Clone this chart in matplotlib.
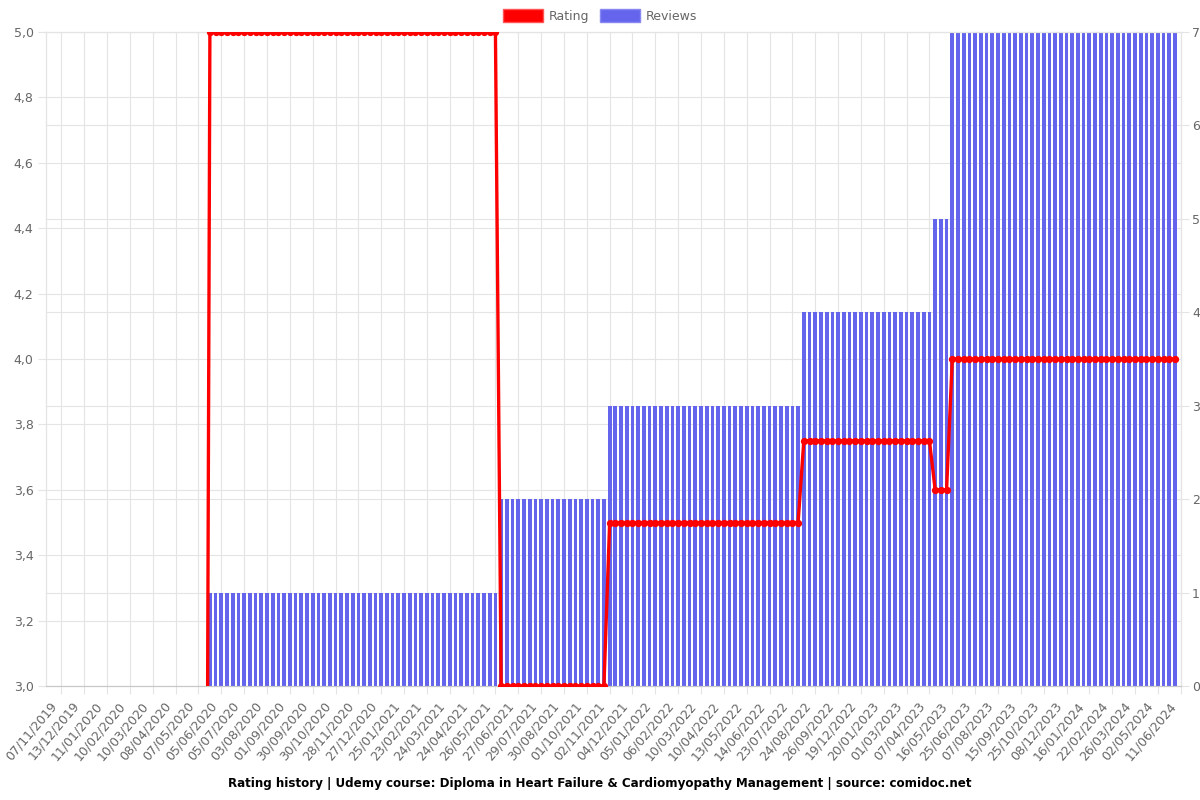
import numpy as np
import matplotlib
matplotlib.use("Agg")
import matplotlib.pyplot as plt
import matplotlib.patches as mpatches
from matplotlib.transforms import ScaledTranslation

# shown date labels (every 4th snapshot)
date_labels = ["07/11/2019", "13/12/2019", "11/01/2020", "10/02/2020", "10/03/2020",
               "08/04/2020", "07/05/2020", "05/06/2020", "05/07/2020", "03/08/2020",
               "01/09/2020", "30/09/2020", "30/10/2020", "28/11/2020", "27/12/2020",
               "25/01/2021", "23/02/2021", "24/03/2021", "24/04/2021", "26/05/2021",
               "27/06/2021", "29/07/2021", "30/08/2021", "01/10/2021", "02/11/2021",
               "04/12/2021", "05/01/2022", "06/02/2022", "10/03/2022", "10/04/2022",
               "13/05/2022", "14/06/2022", "23/07/2022", "24/08/2022", "26/09/2022",
               "19/12/2022", "20/01/2023", "01/03/2023", "07/04/2023", "16/05/2023",
               "25/06/2023", "07/08/2023", "15/09/2023", "25/10/2023", "08/12/2023",
               "16/01/2024", "22/02/2024", "26/03/2024", "02/05/2024", "11/06/2024"]
label_step = 4

# step runs: number of snapshots, reviews and rating in each run
run_length = [26, 51, 19, 34, 23, 3, 40]
run_reviews = [0, 1, 2, 3, 4, 5, 7]
run_rating = [0, 5.0, 3.0, 3.5, 3.75, 3.6, 4.0]

reviews = np.repeat(run_reviews, run_length)
rating = np.repeat(run_rating, run_length)
x = np.arange(len(reviews))

grey = "#666666"
gridc = "#e4e4e4"

fig = plt.figure(figsize=(12, 8), dpi=100)
ax = fig.add_axes([46 / 1200, 1 - 686 / 800, 1135 / 1200, 654 / 800])
ax2 = ax.twinx()
ax.yaxis.tick_right()
ax2.yaxis.tick_left()

ax.bar(x, reviews, width=0.65, color="#6464ec", zorder=2)
ax2.plot(x, rating, color="red", lw=2.4, marker="o", ms=4.2, zorder=3)

ax.set_xlim(-2.7, (len(date_labels) - 1) * label_step + 0.05)
ax.set_ylim(0, 7)
ax2.set_ylim(3, 5)

ax.set_xticks(np.arange(len(date_labels)) * label_step)
ax.set_xticklabels(date_labels, rotation=50, ha="right", va="center", rotation_mode="anchor")
ax.set_yticks(range(0, 8))

rt = np.arange(3.0, 5.01, 0.2)
ax2.set_yticks(rt)
ax2.set_yticklabels([f"{v:.1f}".replace(".", ",") for v in rt])
# rating grid lines drawn on the back axes so they stay behind the bars
ax.set_yticks([(v - 3) * 3.5 for v in rt], minor=True)

ax.grid(True, which="major", color=gridc, lw=0.8)
ax.grid(True, which="minor", axis="y", color=gridc, lw=0.8)
ax.set_axisbelow(True)

ax.tick_params(axis="x", length=6, color=gridc, labelcolor=grey, labelsize=9, pad=6.5)
ax.tick_params(axis="y", which="major", length=6, color=gridc, labelcolor=grey, labelsize=9, pad=2)
ax.tick_params(axis="y", which="minor", length=0)
ax2.tick_params(axis="y", length=6, color=gridc, labelcolor=grey, labelsize=9, pad=3)

# nudge the rotated date labels a bit to the left of their ticks
shift = ScaledTranslation(-7 / 100, 0, fig.dpi_scale_trans)
for lbl in ax.get_xticklabels():
    lbl.set_transform(lbl.get_transform() + shift)

for a in (ax, ax2):
    for s in a.spines.values():
        s.set_color(gridc)
    a.spines["bottom"].set_color("#c8c8c8")

rating_patch = mpatches.Patch(facecolor="red", edgecolor="#ff5555", label="Rating")
reviews_patch = mpatches.Patch(facecolor="#6464ec", edgecolor="#8888f2", label="Reviews")
fig.legend(handles=[rating_patch, reviews_patch], loc="center", bbox_to_anchor=(0.5, 1 - 16 / 800),
           ncol=2, frameon=False, fontsize=9, labelcolor=grey, handlelength=3.2,
           handleheight=1.2, handletextpad=0.45, columnspacing=0.9)

fig.text(0.5, 1 - 783 / 800,
         "Rating history | Udemy course: Diploma in Heart Failure & Cardiomyopathy Management | source: comidoc.net",
         ha="center", va="center", fontsize=8.6, fontweight="bold")

fig.savefig("out.png", dpi=100)
